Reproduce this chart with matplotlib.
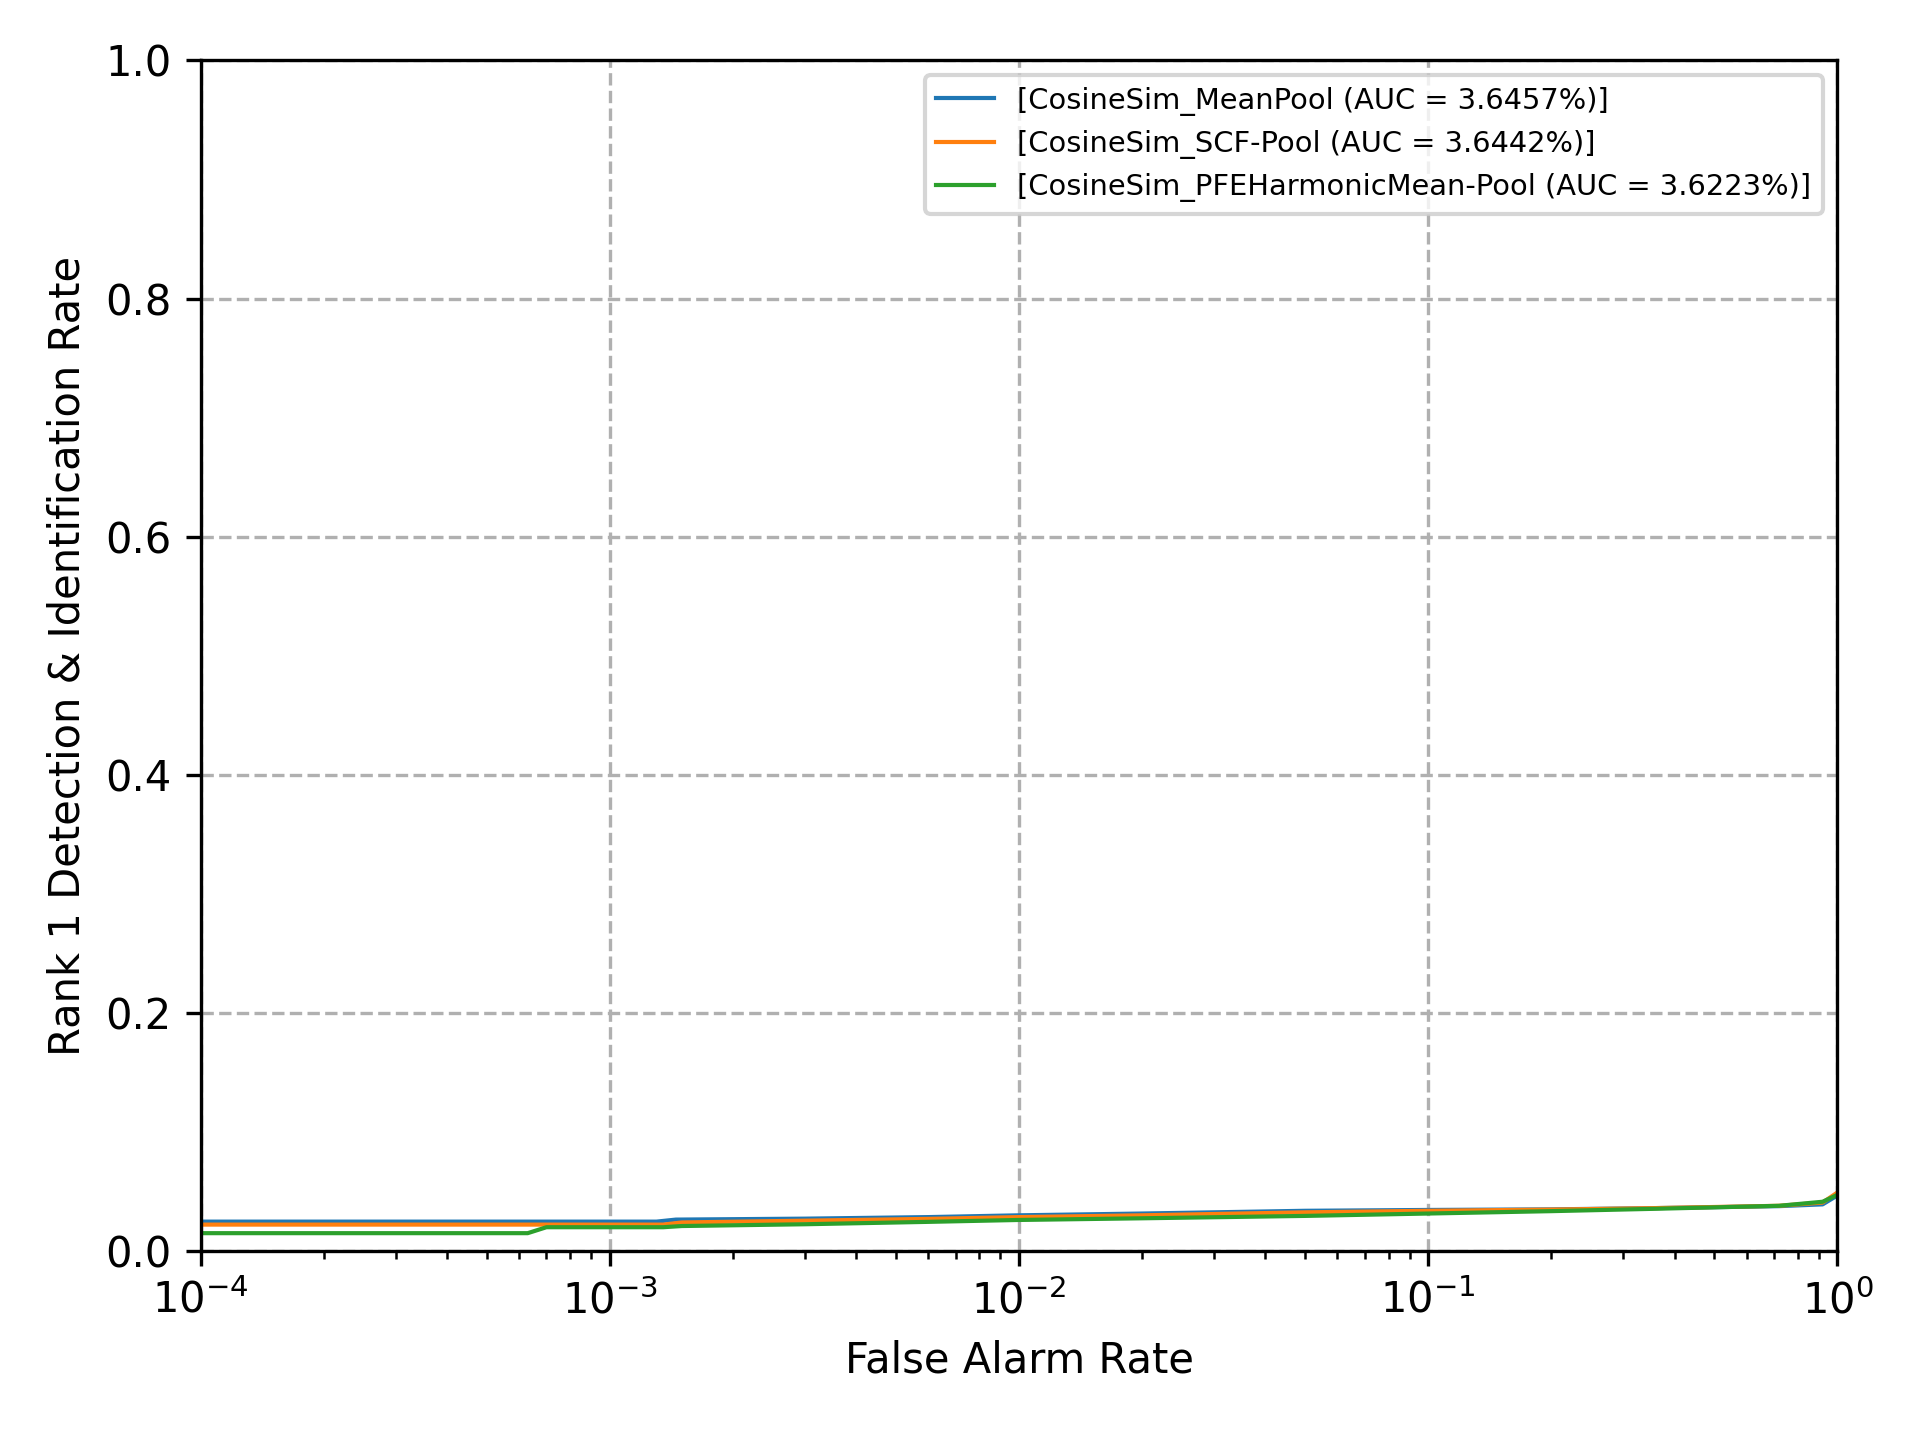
import numpy as np
import matplotlib
matplotlib.use("Agg")
import matplotlib.pyplot as plt

# values (false alarm rate vs rank-1 DIR)
labels = ["[CosineSim_MeanPool (AUC = 3.6457%)]",
          "[CosineSim_SCF-Pool (AUC = 3.6442%)]",
          "[CosineSim_PFEHarmonicMean-Pool (AUC = 3.6223%)]"]

mean_x = [1e-4, 1.3e-3, 1.45e-3, 3e-3, 6e-3, 1e-2, 2e-2, 5e-2, 1e-1, 2e-1, 3.5e-1, 7.2e-1, 9.2e-1, 1.0]
mean_y = [0.0245, 0.0245, 0.0262, 0.0270, 0.0283, 0.0298, 0.0313, 0.0336, 0.0343, 0.0348, 0.0358, 0.0375, 0.0390, 0.0465]

scf_x = [1e-4, 1.35e-3, 1.5e-3, 3e-3, 6e-3, 1e-2, 2e-2, 5e-2, 1e-1, 2e-1, 3.5e-1, 7.2e-1, 9.2e-1, 1.0]
scf_y = [0.0220, 0.0220, 0.0238, 0.0253, 0.0268, 0.0283, 0.0298, 0.0323, 0.0336, 0.0346, 0.0358, 0.0378, 0.0405, 0.0490]

pfe_x = [1e-4, 6.3e-4, 7.0e-4, 1.35e-3, 1.5e-3, 3e-3, 6e-3, 1e-2, 2e-2, 5e-2, 1e-1, 2e-1, 3.5e-1, 7.2e-1, 9.2e-1, 1.0]
pfe_y = [0.0148, 0.0148, 0.0198, 0.0198, 0.0208, 0.0223, 0.0243, 0.0259, 0.0273, 0.0293, 0.0313, 0.0333, 0.0352, 0.0378, 0.0412, 0.0470]

fig = plt.figure(figsize=(6.4, 4.8), dpi=300)
ax = fig.add_subplot(111)

ax.semilogx(mean_x, mean_y, linewidth=1.0, label=labels[0])
ax.semilogx(scf_x, scf_y, linewidth=1.0, label=labels[1])
ax.semilogx(pfe_x, pfe_y, linewidth=1.0, label=labels[2])

ax.set_xlim(1e-4, 1.0)
ax.set_ylim(0.0, 1.0)
ax.grid(True, linestyle="--")
ax.set_xlabel("False Alarm Rate")
ax.set_ylabel("Rank 1 Detection & Identification Rate")
ax.legend(loc="upper right", fontsize="x-small")

fig.subplots_adjust(left=0.1045, right=0.957, bottom=0.1314, top=0.958)
fig.savefig("out.png", dpi=300)
